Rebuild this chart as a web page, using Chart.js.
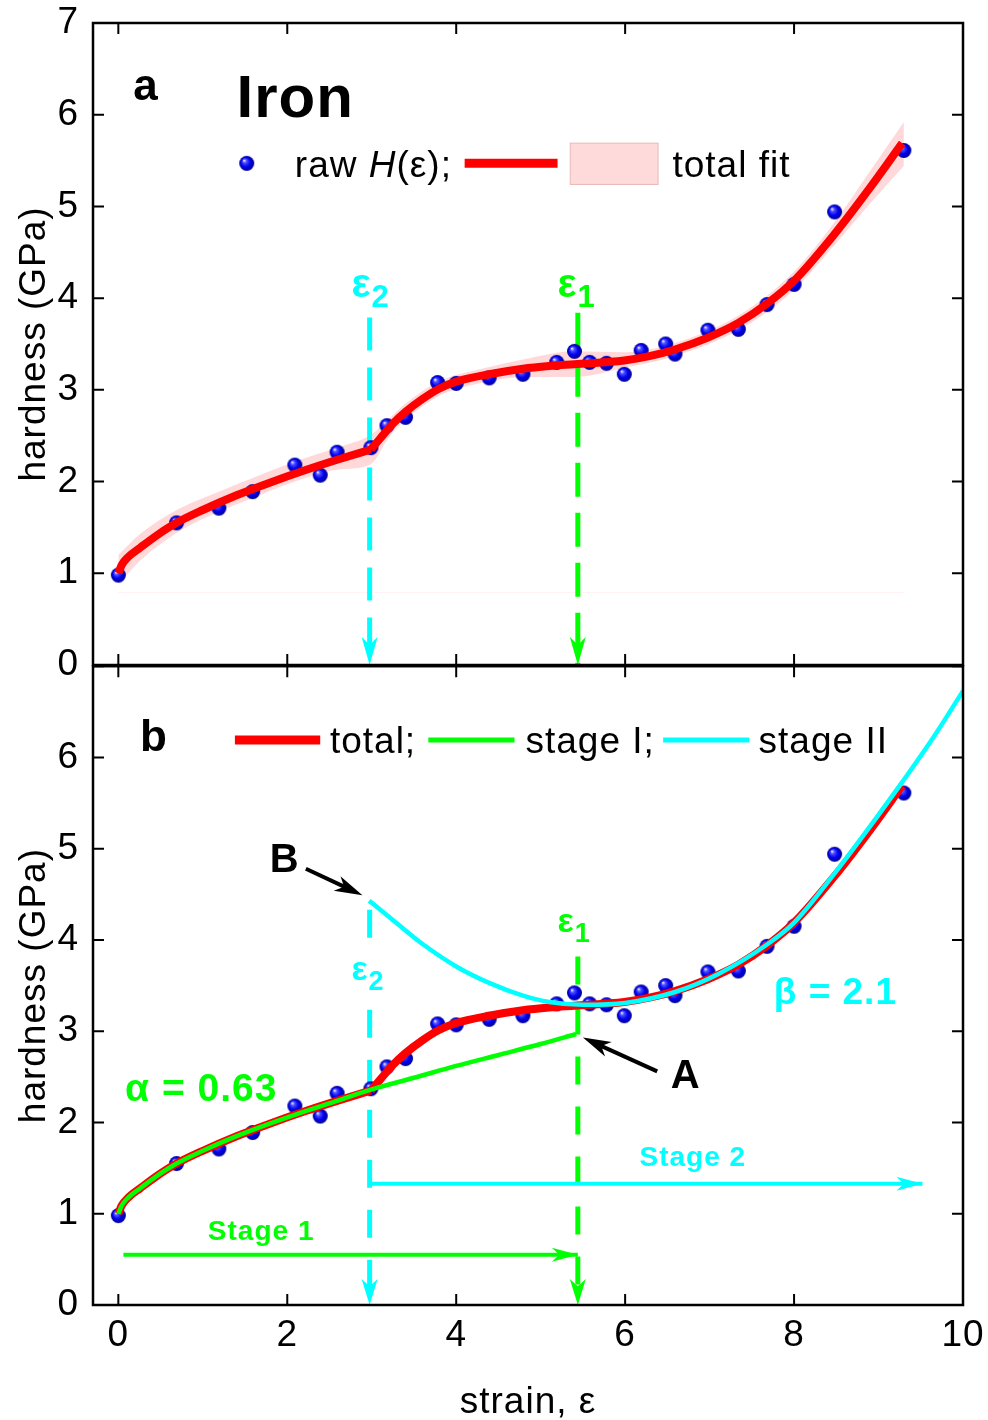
<!DOCTYPE html>
<html>
<head>
<meta charset="utf-8">
<script src="https://cdn.jsdelivr.net/npm/chart.js@4.4.0/dist/chart.umd.min.js"></script>
<style>
  html, body { margin: 0; padding: 0; background: #fff; overflow: hidden; }
  #wrap { position: relative; width: 988px; height: 1420px; overflow: hidden; }
  canvas { position: absolute; left: 0; }
  #topPanel { top: -14px; }
  #bottomPanel { top: 630px; }
</style>
</head>
<body>
<div id="wrap">
  <canvas id="topPanel" width="988" height="716"></canvas>
  <canvas id="bottomPanel" width="993" height="790"></canvas>
</div>
<script>
const FONT = '"Liberation Sans", Arial, sans-serif';
const CYAN = '#00ffff';
const GREEN = '#00ff00';
const RED = '#ff0000';

// axes
const X_MIN = -0.3, X_MAX = 10, Y_MIN = 0, Y_MAX = 7;
const xTicks = [0, 2, 4, 6, 8, 10];
const yTicks = [0, 1, 2, 3, 4, 5, 6, 7];

// raw hardness measurements
const strain   = [0, 0.69, 1.19, 1.59, 2.09, 2.39, 2.59, 2.99, 3.18, 3.40, 3.78, 4.0, 4.39, 4.79,
                  5.19, 5.40, 5.58, 5.78, 5.99, 6.19, 6.48, 6.59, 6.98, 7.34, 7.68, 8.0, 8.48, 9.30];
const hardness = [0.98, 1.55, 1.71, 1.89, 2.18, 2.07, 2.32, 2.37, 2.61, 2.70, 3.08, 3.07, 3.13, 3.17,
                  3.30, 3.42, 3.30, 3.29, 3.17, 3.43, 3.50, 3.39, 3.65, 3.66, 3.93, 4.15, 4.94, 5.61];

// total fit (kink at eps2, so two pieces)
const fitLowX  = [0, 0.04, 0.12, 0.26, 0.45, 0.69, 1.0, 1.4, 1.8, 2.2, 2.6, 2.99];
const fitLowY  = [1.0, 1.09, 1.18, 1.28, 1.41, 1.55, 1.69, 1.85, 1.99, 2.12, 2.24, 2.35];
const fitHighX = [2.99, 3.1, 3.25, 3.4, 3.6, 3.79, 4.0, 4.39, 4.79, 5.1, 5.4, 5.99, 6.3, 6.59, 6.98, 7.34, 7.68, 8.0, 8.48, 8.88, 9.28];
const fitHighY = [2.35, 2.47, 2.63, 2.76, 2.90, 3.01, 3.09, 3.17, 3.23, 3.26, 3.28, 3.32, 3.37, 3.44, 3.57, 3.73, 3.94, 4.19, 4.70, 5.18, 5.69];

// confidence band of the total fit
const bandX   = [0, 0.26, 0.69, 1.19, 1.59, 2.09, 2.59, 2.99, 3.2, 3.4, 3.79, 4.39, 4.79, 5.4, 5.99, 6.59, 7.34, 8.0, 8.48, 8.88, 9.3];
const bandUp  = [1.20, 1.43, 1.69, 1.89, 2.04, 2.22, 2.37, 2.51, 2.68, 2.85, 3.09, 3.25, 3.33, 3.42, 3.41, 3.51, 3.81, 4.29, 4.83, 5.36, 5.92];
const bandLow = [0.88, 1.14, 1.44, 1.67, 1.82, 2.00, 2.13, 2.19, 2.48, 2.67, 2.93, 3.09, 3.14, 3.14, 3.24, 3.37, 3.65, 4.09, 4.58, 5.01, 5.44];
const bandBaseX = [0, 9.3];
const bandBaseY = [0.79, 0.79];

// stage fits
const stage1X = [0, 0.04, 0.12, 0.26, 0.45, 0.69, 1.0, 1.4, 1.8, 2.2, 2.6, 2.99, 3.5, 4.0, 4.5, 5.0, 5.42];
const stage1Y = [1.0, 1.09, 1.18, 1.28, 1.41, 1.55, 1.69, 1.85, 1.99, 2.12, 2.24, 2.36, 2.49, 2.62, 2.74, 2.86, 2.97];
const stage2X = [2.97, 3.3, 3.61, 4.0, 4.39, 4.79, 5.1, 5.5, 6.0, 6.59, 7.11, 7.68, 8.0, 8.48, 8.88, 9.28, 9.67, 10.0];
const stage2Y = [4.43, 4.18, 3.95, 3.71, 3.53, 3.39, 3.32, 3.29, 3.31, 3.43, 3.63, 3.95, 4.19, 4.73, 5.22, 5.73, 6.25, 6.73];

// critical strains and marker lines
const eps2 = 2.975, eps1 = 5.44;
const eps2TopY = [3.79, 0], eps1TopY = [3.84, 0];
const eps2BotY = [4.33, 0], eps1BotY = [3.82, 0];
const stage1ArrowX = [0.06, eps1], stage1ArrowY = [0.55, 0.55];
const stage2ArrowX = [eps2, 9.52], stage2ArrowY = [1.33, 1.33];

const xy = (xs, ys) => xs.map((x, i) => ({ x, y: ys[i] }));

function curve(xs, ys, color, width, extra) {
  return Object.assign({
    data: xy(xs, ys), borderColor: color, backgroundColor: color, borderWidth: width,
    pointRadius: 0, fill: false, cubicInterpolationMode: 'monotone'
  }, extra);
}
function straight(xs, ys, color, width, extra) {
  return curve(xs, ys, color, width, Object.assign({ cubicInterpolationMode: 'default', tension: 0 }, extra));
}

function makeSphere(r) {
  const c = document.createElement('canvas');
  c.width = c.height = Math.ceil(2 * r) + 2;
  const g = c.getContext('2d');
  const m = c.width / 2;
  const grad = g.createRadialGradient(m - r * 0.35, m - r * 0.4, r * 0.05, m, m, r);
  grad.addColorStop(0, '#e8e8ff');
  grad.addColorStop(0.22, '#5050ff');
  grad.addColorStop(0.6, '#0000f0');
  grad.addColorStop(1, '#000090');
  g.fillStyle = grad;
  g.beginPath(); g.arc(m, m, r, 0, Math.PI * 2); g.fill();
  return c;
}
const sphere = makeSphere(7.5);

function drawArrowHead(ctx, from, to, len, half, color) {
  const ang = Math.atan2(to.y - from.y, to.x - from.x);
  ctx.save();
  ctx.translate(to.x, to.y);
  ctx.rotate(ang);
  ctx.fillStyle = color;
  ctx.beginPath();
  ctx.moveTo(0, 0);
  ctx.lineTo(-len, -half);
  ctx.lineTo(-len * 0.72, 0);
  ctx.lineTo(-len, half);
  ctx.closePath();
  ctx.fill();
  ctx.restore();
}

function put(ctx, str, x, y, font, color) {
  ctx.font = font; ctx.fillStyle = color;
  ctx.textAlign = 'left'; ctx.textBaseline = 'alphabetic';
  ctx.fillText(str, x, y);
  return x + ctx.measureText(str).width;
}

function epsLabel(ctx, sub, x, y, size, subSize, color) {
  const nx = put(ctx, 'ε', x, y, `bold ${size}px ${FONT}`, color);
  put(ctx, sub, nx, y + 10, `bold ${subSize}px ${FONT}`, color);
}

const spacing = {
  id: 'spacing',
  beforeDraw(chart) { chart.ctx.letterSpacing = '1px'; }
};

const arrowHeads = {
  id: 'arrowHeads',
  afterDatasetsDraw(chart) {
    chart.data.datasets.forEach((ds, i) => {
      if (!ds.arrow) return;
      const pts = chart.getDatasetMeta(i).data;
      drawArrowHead(chart.ctx, pts[pts.length - 2], pts[pts.length - 1], ds.arrow[0], ds.arrow[1], ds.borderColor);
    });
  }
};

const frameTicks = {
  id: 'frameTicks',
  afterDraw(chart) {
    const { ctx, chartArea: a, scales: { x, y } } = chart;
    ctx.save();
    ctx.strokeStyle = '#000';
    ctx.lineWidth = 2.5;
    ctx.strokeRect(a.left, a.top, a.right - a.left, a.bottom - a.top);
    ctx.lineWidth = 2;
    ctx.beginPath();
    xTicks.forEach(v => {
      const p = x.getPixelForValue(v);
      ctx.moveTo(p, a.top); ctx.lineTo(p, a.top + 11);
      ctx.moveTo(p, a.bottom); ctx.lineTo(p, a.bottom - 11);
    });
    yTicks.forEach(v => {
      const p = y.getPixelForValue(v);
      ctx.moveTo(a.left, p); ctx.lineTo(a.left + 11, p);
      ctx.moveTo(a.right, p); ctx.lineTo(a.right - 11, p);
    });
    ctx.stroke();
    ctx.restore();
  }
};

function arrowBetween(chart, from, to) {
  const { x, y } = chart.scales;
  const ctx = chart.ctx;
  const p0 = { x: x.getPixelForValue(from[0]), y: y.getPixelForValue(from[1]) };
  const p1 = { x: x.getPixelForValue(to[0]), y: y.getPixelForValue(to[1]) };
  ctx.save();
  ctx.strokeStyle = '#000';
  ctx.lineWidth = 4;
  ctx.beginPath();
  ctx.moveTo(p0.x, p0.y);
  const ang = Math.atan2(p1.y - p0.y, p1.x - p0.x);
  ctx.lineTo(p1.x - Math.cos(ang) * 15, p1.y - Math.sin(ang) * 15);
  ctx.stroke();
  ctx.restore();
  drawArrowHead(ctx, p0, p1, 28, 8, '#000');
}

const topOverlay = {
  id: 'topOverlay',
  afterDatasetsDraw(chart) {
    const ctx = chart.ctx;
    const P = (vx, vy) => [chart.scales.x.getPixelForValue(vx), chart.scales.y.getPixelForValue(vy)];
    ctx.save();
    let [x, y] = P(0.177, 6.16);
    put(ctx, 'a', x, y, `bold 44px ${FONT}`, '#000');
    [x, y] = P(1.40, 5.97);
    put(ctx, 'Iron', x, y, `bold 60px ${FONT}`, '#000');

    // legend
    [x, y] = P(1.52, 5.47);
    ctx.drawImage(sphere, x - sphere.width / 2, y - sphere.height / 2);
    [x, y] = P(2.09, 5.32);
    x = put(ctx, 'raw ', x, y, `37px ${FONT}`, '#000');
    x = put(ctx, 'H', x, y, `italic 37px ${FONT}`, '#000');
    put(ctx, '(ε);', x, y, `37px ${FONT}`, '#000');
    const [l0, ly] = P(4.10, 5.47), [l1] = P(5.20, 5.47);
    ctx.strokeStyle = RED; ctx.lineWidth = 9;
    ctx.beginPath(); ctx.moveTo(l0, ly); ctx.lineTo(l1, ly); ctx.stroke();
    const [b0, bt] = P(5.35, 5.69), [b1, bb] = P(6.39, 5.24);
    ctx.fillStyle = '#ffdada'; ctx.fillRect(b0, bt, b1 - b0, bb - bt);
    ctx.strokeStyle = '#e8b8b8'; ctx.lineWidth = 1; ctx.strokeRect(b0, bt, b1 - b0, bb - bt);
    [x, y] = P(6.56, 5.32);
    put(ctx, 'total fit', x, y, `37px ${FONT}`, '#000');

    [x, y] = P(2.76, 4.01);
    epsLabel(ctx, '2', x, y, 40, 31, CYAN);
    [x, y] = P(5.20, 4.01);
    epsLabel(ctx, '1', x, y, 40, 31, GREEN);
    ctx.restore();
  }
};

const bottomOverlay = {
  id: 'bottomOverlay',
  afterDatasetsDraw(chart) {
    const ctx = chart.ctx;
    const P = (vx, vy) => [chart.scales.x.getPixelForValue(vx), chart.scales.y.getPixelForValue(vy)];
    ctx.save();
    let [x, y] = P(0.257, 6.07);
    put(ctx, 'b', x, y, `bold 44px ${FONT}`, '#000');

    // legend
    const legendLines = [[1.38, 2.39, RED, 9], [3.67, 4.69, GREEN, 5], [6.45, 7.47, CYAN, 5]];
    legendLines.forEach(([a0, a1, c, w]) => {
      const [p0, py] = P(a0, 6.19), [p1] = P(a1, 6.19);
      ctx.strokeStyle = c; ctx.lineWidth = w;
      ctx.beginPath(); ctx.moveTo(p0, py); ctx.lineTo(p1, py); ctx.stroke();
    });
    [[2.505, 'total;'], [4.82, 'stage I;'], [7.58, 'stage II']].forEach(([vx, s]) => {
      const [tx, ty] = P(vx, 6.05);
      put(ctx, s, tx, ty, `37px ${FONT}`, '#000');
    });

    // epsilon labels (eps2 sits on its dashed line)
    [x, y] = P(2.76, 3.56);
    ctx.fillStyle = '#fff';
    ctx.fillRect(x - 2, y - 26, 36, 40);
    epsLabel(ctx, '2', x, y, 34, 27, CYAN);
    [x, y] = P(5.20, 4.09);
    epsLabel(ctx, '1', x, y, 34, 27, GREEN);

    [x, y] = P(0.08, 2.236);
    put(ctx, 'α = 0.63', x, y, `bold 39px ${FONT}`, GREEN);
    [x, y] = P(7.76, 3.294);
    put(ctx, 'β = 2.1', x, y, `bold 37px ${FONT}`, CYAN);
    [x, y] = P(1.06, 0.71);
    put(ctx, 'Stage 1', x, y, `bold 28px ${FONT}`, GREEN);
    [x, y] = P(6.17, 1.52);
    put(ctx, 'Stage 2', x, y, `bold 28px ${FONT}`, CYAN);

    [x, y] = P(1.793, 4.745);
    put(ctx, 'B', x, y, `bold 40px ${FONT}`, '#000');
    [x, y] = P(6.54, 2.38);
    put(ctx, 'A', x, y, `bold 40px ${FONT}`, '#000');
    arrowBetween(chart, [2.22, 4.78], [2.89, 4.49]);
    arrowBetween(chart, [6.38, 2.56], [5.50, 2.93]);
    ctx.restore();
  }
};

function scalesFor(isBottom) {
  return {
    x: {
      type: 'linear', min: X_MIN, max: X_MAX, display: isBottom,
      grid: { display: false, drawTicks: false }, border: { display: false },
      afterBuildTicks: s => { s.ticks = xTicks.map(v => ({ value: v })); },
      afterFit: s => { s.height = isBottom ? 115 : 0; },
      ticks: { font: { size: 37 }, color: '#000', padding: 9, maxRotation: 0, autoSkip: false },
      title: { display: isBottom, text: 'strain, ε', font: { size: 37 }, color: '#000', padding: { top: 0, bottom: -5 } }
    },
    y: {
      type: 'linear', min: Y_MIN, max: Y_MAX,
      grid: { display: false, drawTicks: false }, border: { display: false },
      afterBuildTicks: s => { s.ticks = yTicks.map(v => ({ value: v })); },
      afterFit: s => { s.width = 93; },
      ticks: { font: { size: 37 }, color: '#000', padding: 14, callback: v => (isBottom && v === Y_MAX) ? '' : v },
      title: { display: true, text: 'hardness (GPa)', font: { size: 37 }, color: '#000', padding: { top: 13, bottom: 0 } }
    }
  };
}

function options(isBottom) {
  return {
    responsive: false,
    animation: false,
    events: [],
    layout: { padding: isBottom ? { left: 0, right: 30, top: 34, bottom: 0 } : { left: 0, right: 25, top: 37, bottom: 37 } },
    plugins: { legend: { display: false }, tooltip: { enabled: false } },
    scales: scalesFor(isBottom)
  };
}

Chart.defaults.font.family = FONT;
Chart.defaults.color = '#000';

const points = () => ({
  data: xy(strain, hardness), showLine: false, pointStyle: sphere,
  pointRadius: 7.5, pointHoverRadius: 7.5, order: 2
});

new Chart(document.getElementById('topPanel'), {
  type: 'line',
  data: {
    datasets: [
      curve(bandX, bandLow, 'rgba(0,0,0,0)', 0, { order: 9 }),
      curve(bandX, bandUp, 'rgba(0,0,0,0)', 0, { order: 9, fill: '-1', backgroundColor: 'rgba(255,0,0,0.15)' }),
      straight(bandBaseX, bandBaseY, 'rgba(255,0,0,0.05)', 1, { order: 9 }),
      curve(fitLowX, fitLowY, RED, 8, { order: 1 }),
      curve(fitHighX, fitHighY, RED, 8, { order: 1 }),
      straight([eps2, eps2], eps2TopY, CYAN, 5, { order: 3, borderDash: [33, 17], arrow: [28, 8] }),
      straight([eps1, eps1], eps1TopY, GREEN, 5, { order: 3, borderDash: [34, 16], arrow: [28, 8] }),
      points()
    ]
  },
  options: options(false),
  plugins: [spacing, arrowHeads, topOverlay, frameTicks]
});

new Chart(document.getElementById('bottomPanel'), {
  type: 'line',
  data: {
    datasets: [
      straight(stage1ArrowX, stage1ArrowY, GREEN, 4, { order: 3, arrow: [26, 7] }),
      straight(stage2ArrowX, stage2ArrowY, CYAN, 4, { order: 3, arrow: [26, 7] }),
      straight([eps2, eps2], eps2BotY, CYAN, 5, { order: 3, borderDash: [28, 22], arrow: [26, 8] }),
      straight([eps1, eps1], eps1BotY, GREEN, 5, { order: 3, borderDash: [28, 22], arrow: [26, 8] }),
      curve(fitLowX, fitLowY, RED, 8, { order: 1 }),
      curve(fitHighX, fitHighY, RED, 8, { order: 1 }),
      curve(stage1X, stage1Y, GREEN, 4.5, { order: 0 }),
      curve(stage2X, stage2Y, CYAN, 4.5, { order: 0 }),
      points()
    ]
  },
  options: options(true),
  plugins: [spacing, arrowHeads, bottomOverlay, frameTicks]
});
</script>
</body>
</html>
